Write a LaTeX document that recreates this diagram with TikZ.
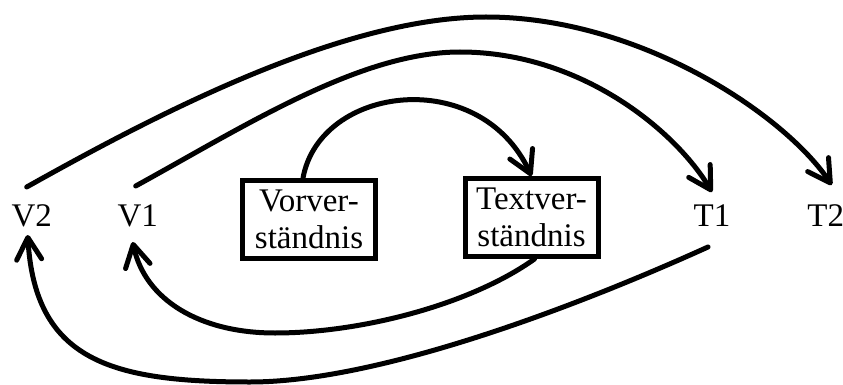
\documentclass[tikz,border=0pt]{standalone}
\usepackage{fontspec}
\setmainfont{Liberation Serif}
\usetikzlibrary{arrows.meta}
\begin{document}
\begin{tikzpicture}[x=1pt,y=-1pt,
  lbl/.style={inner sep=0pt, font=\fontsize{33}{37}\selectfont},
  stagebox/.style={draw, line width=5pt, minimum width=133pt, minimum height=78pt,
    align=center, inner sep=0pt, font=\fontsize{33}{37}\selectfont},
  link/.style={line width=5pt, line cap=round,
    -{Straight Barb[length=22pt,width=25pt,round]}}]
  % canvas
  \fill[white] (0,0) rectangle (843,385);
  \useasboundingbox (0,0) rectangle (843,385);

  % stages
  \node[lbl] (V2) at (31.7,216) {V2};
  \node[lbl] (V1) at (137.7,216) {V1};
  \node[stagebox] (VV) at (309,219.5) {Vorver-\\ständnis};
  \node[stagebox] (TV) at (531.5,217.5) {Textver-\\ständnis};
  \node[lbl] (T1) at (712,216) {T1};
  \node[lbl] (T2) at (825.7,216) {T2};

  % forward arcs (above)
  \draw[link] ([xshift=-6]VV.north) .. controls (320,85) and (480,65) .. (TV.north);
  \draw[link] ([shift={(-2,-30)}]V1.center) .. controls (245,126) and (360,52) .. (460,52)
    .. controls (580,52) and (675,130) .. ([shift={(0,-24)}]T1.center);
  \draw[link] ([shift={(-5,-29)}]V2.center) .. controls (150,118) and (340,17) .. (486,17)
    .. controls (640,17) and (785,115) .. ([shift={(6,-31)}]T2.center);

  % backward arcs (below)
  \draw[link] ([xshift=3]TV.south) .. controls (470,305) and (360,333) .. (275,333)
    .. controls (200,333) and (145,300) .. ([shift={(-5,26)}]V1.center);
  \draw[link] ([shift={(-4,31)}]T1.center) .. controls (580,305) and (380,382) .. (250,382)
    .. controls (110,382) and (35,360) .. ([shift={(-4,19)}]V2.center);
\end{tikzpicture}
\end{document}
